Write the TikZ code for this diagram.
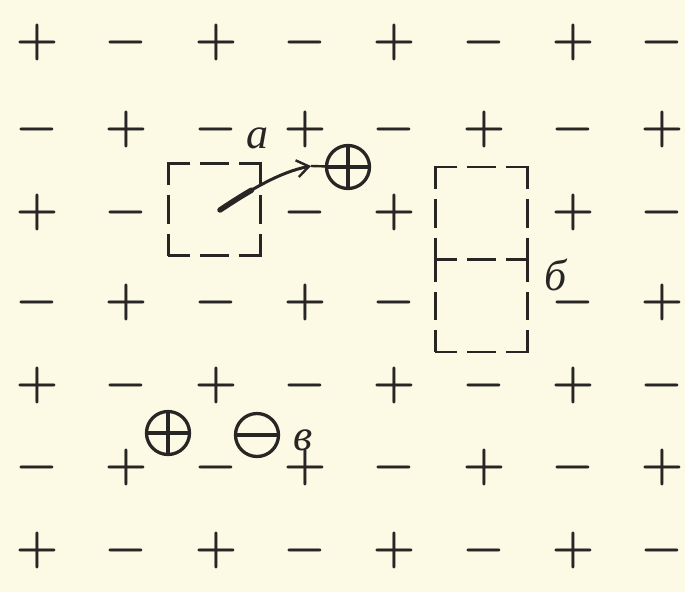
\documentclass[tikz,border=0pt]{standalone}
\usepackage{fontspec}
\usepackage{graphicx}
\newfontfamily\cyr{Liberation Serif}
\usetikzlibrary{arrows.meta}
\definecolor{paper}{RGB}{252,249,228}
\definecolor{ink}{RGB}{40,38,36}
\newcommand{\bigsign}[1]{\scalebox{4.8}{\boldmath$#1$}}
\begin{document}
\begin{tikzpicture}[x=1pt,y=-1pt,
  sign/.style={text=ink, inner sep=0pt},
  vacancy/.style={draw=ink, line width=2.8pt, dash pattern=on 44pt off 10pt on 28.5pt off 10pt, dash phase=22pt, minimum width=92.5pt, minimum height=92.5pt, inner sep=0pt},
  ion/.style={draw=ink, circle, line width=3.3pt, minimum size=43pt, inner sep=0pt},
  ionplus/.style={ion, path picture={\draw[ink, line width=3.3pt] (path picture bounding box.north) -- (path picture bounding box.south) (path picture bounding box.west) -- (path picture bounding box.east);}},
  ionminus/.style={ion, path picture={\draw[ink, line width=3.3pt] (path picture bounding box.west) -- (path picture bounding box.east);}},
  lbl/.style={text=ink, font=\fontsize{44}{44}\selectfont\cyr\itshape, inner sep=0pt}
]
\fill[paper] (0,0) rectangle (685,592);
\useasboundingbox (0,0) rectangle (685,592);

\foreach \yy [count=\ri from 0] in {42,129,212,302,385,467,550}{
  \foreach \xx [count=\ci from 0] in {37,126,216,305,394,484,573,662}{
    \pgfmathtruncatemacro\sgn{mod(\ri+\ci,2)}
    \pgfmathtruncatemacro\hole{((\ri==2)&&((\ci==2)||(\ci==5)))||((\ri==3)&&(\ci==5))}
    \ifnum\hole=0
      \node[sign] (s-\ri-\ci) at (\xx,\yy) {\ifnum\sgn=0 \bigsign{+}\else \bigsign{-}\fi};
    \fi
  }
}

% vacancies
\node[vacancy] (vacA) at (214.5,209.5) {};
\node[vacancy] (vacB1) at (481.5,213.25) {};
\node[vacancy] (vacB2) at (481.5,305.75) {};

% ions
\node[ionplus] (plusA) at (348,167) {};
\node[ionplus] (plusV) at (168,433) {};
\node[ionminus] (minusV) at (257,435) {};

% labels
\node[lbl] (la) at (257,138) {а};
\node[lbl] (lb) at (556,275) {б};
\node[lbl] (lv) at (303,440) {в};

% arrow
\coordinate (aStart) at (220,210);
\coordinate (aTip) at (311,166);
\draw[ink, line width=5.5pt, line cap=round] (aStart) .. controls (230.5,203) and (241,196.25) .. (251.5,190.2);
\draw[ink, line width=3pt, line cap=round, -{Straight Barb[length=12pt,width=17pt,line width=2.4pt]}] (aStart) .. controls (250,190) and (280,172) .. (aTip);
\draw[ink, line width=2.4pt] (aTip) -- (plusA);
\end{tikzpicture}
\end{document}
